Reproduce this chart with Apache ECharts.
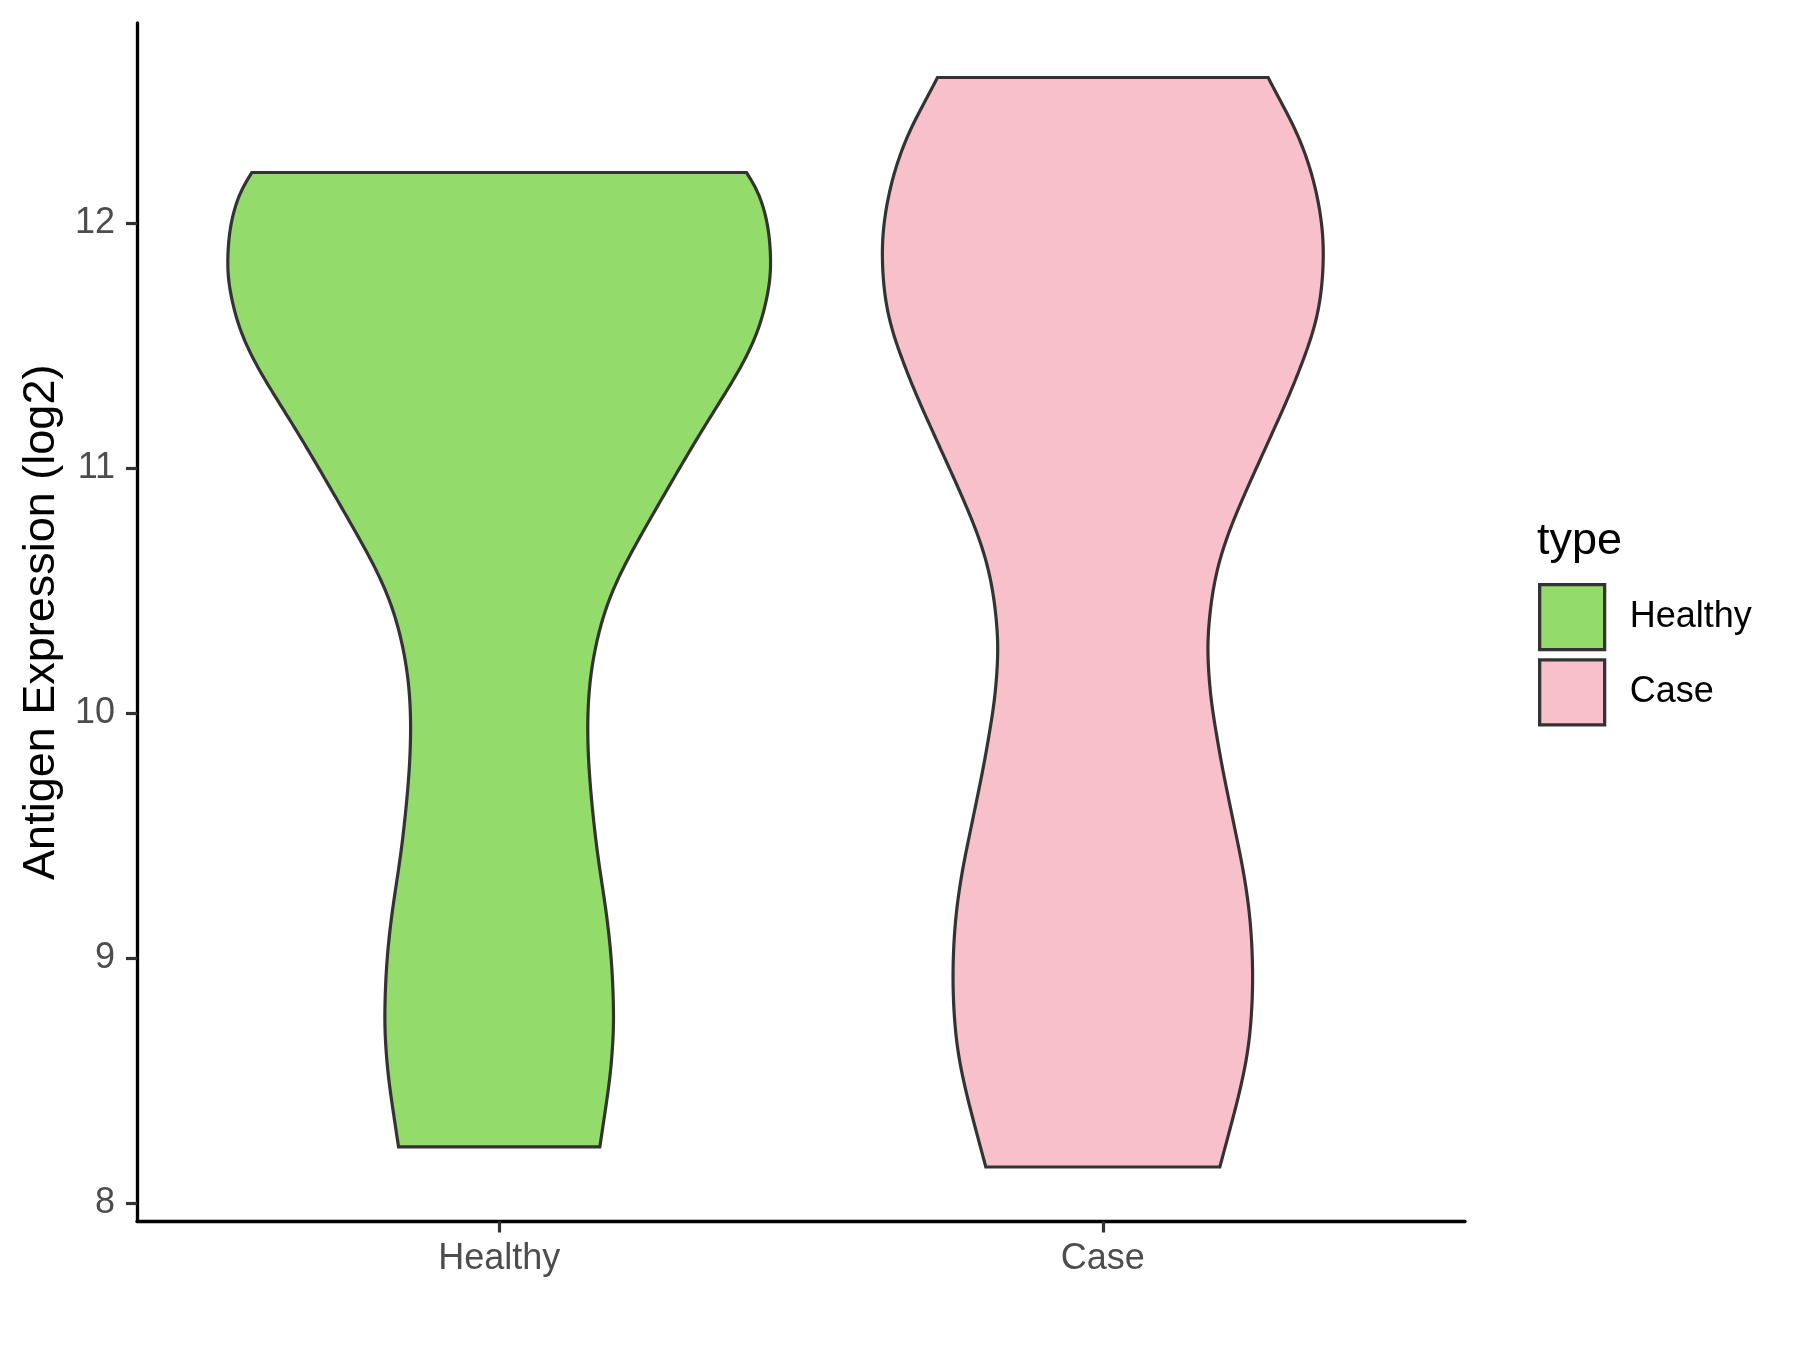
<!DOCTYPE html>
<html><head><meta charset="utf-8">
<script src="https://cdn.jsdelivr.net/npm/echarts@6/dist/echarts.min.js"></script>
<style>html,body{margin:0;padding:0;background:#fff}#c{width:1800px;height:1350px}</style>
</head><body><div id="c"></div>
<script>
// ---- data ----
const categories = ['Healthy', 'Case'];
const categoryPos = [1, 2];
const yTicks = [8, 9, 10, 11, 12];
const legendTitle = 'type';
const yAxisTitle = 'Antigen Expression (log2)';

// violin profile: expression value (log2) and half-width (in category units)
const healthyY = [12.208, 12.120, 11.984, 11.820, 11.712, 11.575, 11.439, 11.303, 11.167, 11.031, 10.895, 10.731, 10.595, 10.459, 10.323, 10.186, 10.050, 9.914, 9.778, 9.642, 9.478, 9.342, 9.206, 9.070, 8.934, 8.770, 8.661, 8.525, 8.389, 8.228];
const healthyHalfWidth = [0.4097, 0.4318, 0.4472, 0.4511, 0.4455, 0.4318, 0.4069, 0.3738, 0.3390, 0.3060, 0.2740, 0.2357, 0.2053, 0.1804, 0.1639, 0.1529, 0.1473, 0.1463, 0.1485, 0.1530, 0.1600, 0.1678, 0.1764, 0.1832, 0.1877, 0.1899, 0.1887, 0.1844, 0.1766, 0.1667];

const caseY = [12.596, 12.529, 12.392, 12.256, 12.120, 11.984, 11.861, 11.712, 11.575, 11.439, 11.303, 11.167, 11.017, 10.881, 10.745, 10.609, 10.472, 10.336, 10.227, 10.064, 9.928, 9.792, 9.655, 9.506, 9.369, 9.233, 9.097, 8.920, 8.757, 8.620, 8.484, 8.348, 8.146];
const caseHalfWidth = [0.2739, 0.2878, 0.3181, 0.3401, 0.3550, 0.3640, 0.3661, 0.3623, 0.3512, 0.3318, 0.3098, 0.2850, 0.2573, 0.2324, 0.2092, 0.1910, 0.1801, 0.1745, 0.1735, 0.1784, 0.1872, 0.1967, 0.2080, 0.2205, 0.2320, 0.2407, 0.2464, 0.2490, 0.2464, 0.2407, 0.2298, 0.2159, 0.1938];

const fillColors = ['#93DB6B', '#F7C0CB'];
const outline = '#333333';
const FONT = '"Liberation Sans", Arial, Helvetica, sans-serif';

// ---- rendering helper: clamped cubic B-spline through the screen points ----
function bspline(p) {
  const q = [p[0], p[0]].concat(p, [p[p.length - 1], p[p.length - 1]]);
  const out = [], S = 10;
  for (let i = 0; i < q.length - 3; i++) {
    const a = q[i], b = q[i + 1], c = q[i + 2], d = q[i + 3];
    for (let k = 0; k < S; k++) {
      const t = k / S, t2 = t * t, t3 = t2 * t, u = 1 - t;
      const w0 = u * u * u / 6, w1 = (3 * t3 - 6 * t2 + 4) / 6, w2 = (-3 * t3 + 3 * t2 + 3 * t + 1) / 6, w3 = t3 / 6;
      out.push([w0 * a[0] + w1 * b[0] + w2 * c[0] + w3 * d[0], w0 * a[1] + w1 * b[1] + w2 * c[1] + w3 * d[1]]);
    }
  }
  out.push(p[p.length - 1]);
  return out;
}
function makeRender(pos, ys, ws, color) {
  return function (params, api) {
    if (params.dataIndex !== 0) return null;
    const right = ys.map((y, i) => api.coord([pos + ws[i], y]));
    const left = ys.map((y, i) => api.coord([pos - ws[i], y])).reverse();
    const pts = bspline(right).concat(bspline(left));
    return {
      type: 'polygon',
      shape: { points: pts },
      style: { fill: color, stroke: outline, lineWidth: 3.2, lineJoin: 'miter' }
    };
  };
}

const yMin = 7.9235, yMax = 12.8185;
const chart = echarts.init(document.getElementById('c'), null, { renderer: 'canvas' });
chart.setOption({
  animation: false,
  backgroundColor: '#ffffff',
  title: [{
    text: legendTitle, left: 1537, top: 519, padding: 0,
    textStyle: { fontSize: 45, fontWeight: 'normal', color: '#000', fontFamily: FONT }
  }],
  legend: {
    orient: 'vertical', left: 1538, top: 583, padding: 0,
    itemWidth: 65, itemHeight: 65, itemGap: 7,
    textStyle: { fontSize: 36, color: '#000', fontFamily: FONT, padding: [4, 0, 0, 20] },
    data: categories.map((c, i) => ({
      name: c, icon: 'rect',
      itemStyle: { color: fillColors[i], borderColor: outline, borderWidth: 3.3 }
    }))
  },
  grid: { left: 137, right: 335, top: 23, bottom: 128.5, containLabel: false },
  xAxis: {
    type: 'value', min: 0.4, max: 2.6,
    axisLine: { show: true, lineStyle: { color: '#000', width: 3.3 } },
    axisTick: { show: true, customValues: categoryPos, length: 11, lineStyle: { color: '#333', width: 3.2 } },
    axisLabel: {
      customValues: categoryPos, margin: 20,
      formatter: v => categories[categoryPos.indexOf(Math.round(v))] || '',
      fontSize: 36, color: '#4D4D4D', fontFamily: FONT
    },
    splitLine: { show: false }
  },
  yAxis: {
    type: 'value', min: yMin, max: yMax,
    name: yAxisTitle, nameLocation: 'middle', nameGap: 72,
    nameTextStyle: { fontSize: 45, color: '#000', fontFamily: FONT },
    axisLine: { show: true, lineStyle: { color: '#000', width: 3.3 } },
    axisTick: { show: true, customValues: yTicks, length: 11, lineStyle: { color: '#333', width: 3.2 } },
    axisLabel: { customValues: yTicks, margin: 22, fontSize: 36, color: '#4D4D4D', fontFamily: FONT },
    splitLine: { show: false }
  },
  series: [
    {
      name: categories[0], type: 'custom',
      itemStyle: { color: fillColors[0], borderColor: outline },
      encode: { x: 0, y: 1 },
      data: healthyY.map((y, i) => [categoryPos[0], y, healthyHalfWidth[i]]),
      renderItem: makeRender(categoryPos[0], healthyY, healthyHalfWidth, fillColors[0])
    },
    {
      name: categories[1], type: 'custom',
      itemStyle: { color: fillColors[1], borderColor: outline },
      encode: { x: 0, y: 1 },
      data: caseY.map((y, i) => [categoryPos[1], y, caseHalfWidth[i]]),
      renderItem: makeRender(categoryPos[1], caseY, caseHalfWidth, fillColors[1])
    }
  ]
});
</script>
</body></html>
